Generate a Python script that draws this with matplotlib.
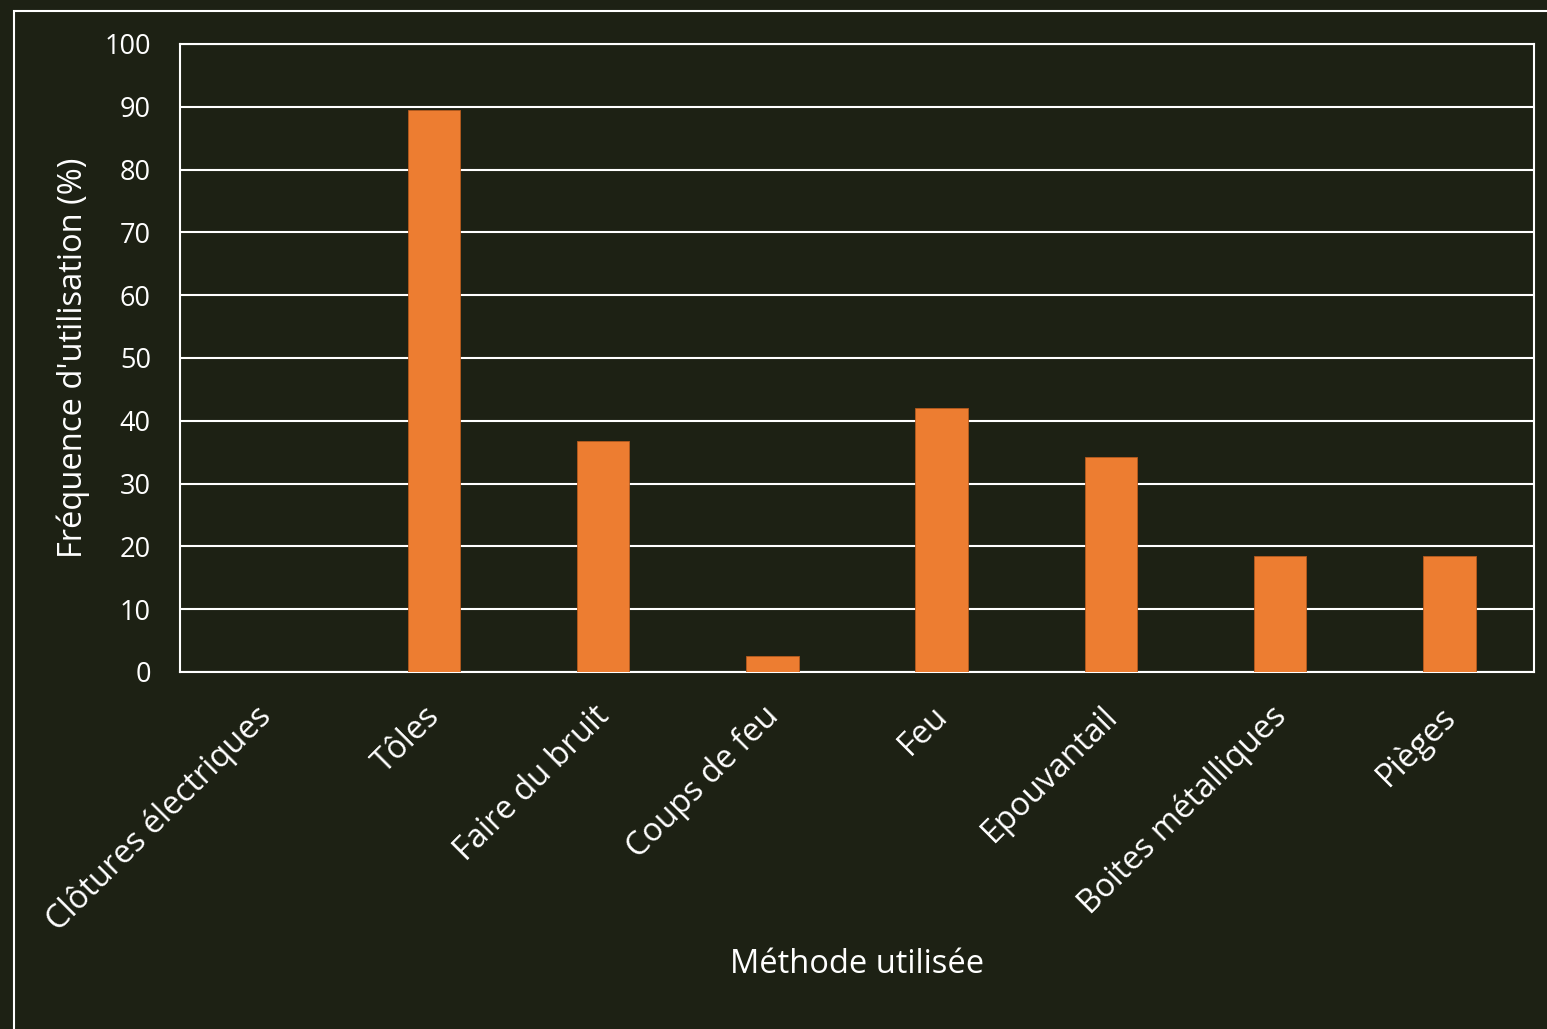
import matplotlib
matplotlib.use('Agg')
import matplotlib.pyplot as plt
from matplotlib.patches import Rectangle
from matplotlib.transforms import ScaledTranslation

# data
methods = ['Clôtures électriques', 'Tôles', 'Faire du bruit', 'Coups de feu',
           'Feu', 'Epouvantail', 'Boites métalliques', 'Pièges']
freq = [0, 89.5, 36.8, 2.6, 42.1, 34.2, 18.4, 18.4]
yticks = [0, 10, 20, 30, 40, 50, 60, 70, 80, 90, 100]

bg = '#1d2114'
orange = '#ED7D31'
plt.rcParams['font.family'] = ['Open Sans', 'DejaVu Sans']

W, H = 1547, 1029
fig = plt.figure(figsize=(W / 100, H / 100), dpi=100, facecolor=bg)

# outer chart border (left/top visible, runs off the right and bottom)
fig.patches.append(Rectangle((14 / W, -0.1), 1.2, 1 - 11 / H + 0.1,
                             transform=fig.transFigure, fill=False,
                             edgecolor='white', linewidth=1.5))

ax = fig.add_axes([180 / W, 1 - 672 / H, (1534 - 180) / W, (672 - 44) / H])
ax.set_facecolor(bg)

x = range(len(methods))
ax.bar(x, freq, width=0.31, color=orange, edgecolor='#b55a1e', linewidth=0.6, zorder=3)

ax.set_xlim(-0.5, len(methods) - 0.5)
ax.set_ylim(0, 100)
ax.set_yticks(yticks)
ax.yaxis.grid(True, color='white', linewidth=1.5, zorder=0)
for s in ax.spines.values():
    s.set_color('white')
    s.set_linewidth(1.5)

ax.tick_params(axis='both', length=0, colors='white')
ax.tick_params(axis='y', pad=21, labelsize=19.5)
ax.set_xticks(list(x))
ax.set_xticklabels(methods, rotation=45, ha='right', va='top',
                   rotation_mode='anchor', fontsize=23.5)
ax.tick_params(axis='x', pad=20)
shift = ScaledTranslation(-10 / 100, 0, fig.dpi_scale_trans)
for lbl in ax.get_xticklabels():
    lbl.set_transform(lbl.get_transform() + shift)

ax.set_ylabel("Fréquence d'utilisation (%)", color='white', fontsize=23.5, labelpad=10)
ax.set_xlabel('Méthode utilisée', color='white', fontsize=23.5, labelpad=7)

fig.savefig('out.png', dpi=100, facecolor=bg)
